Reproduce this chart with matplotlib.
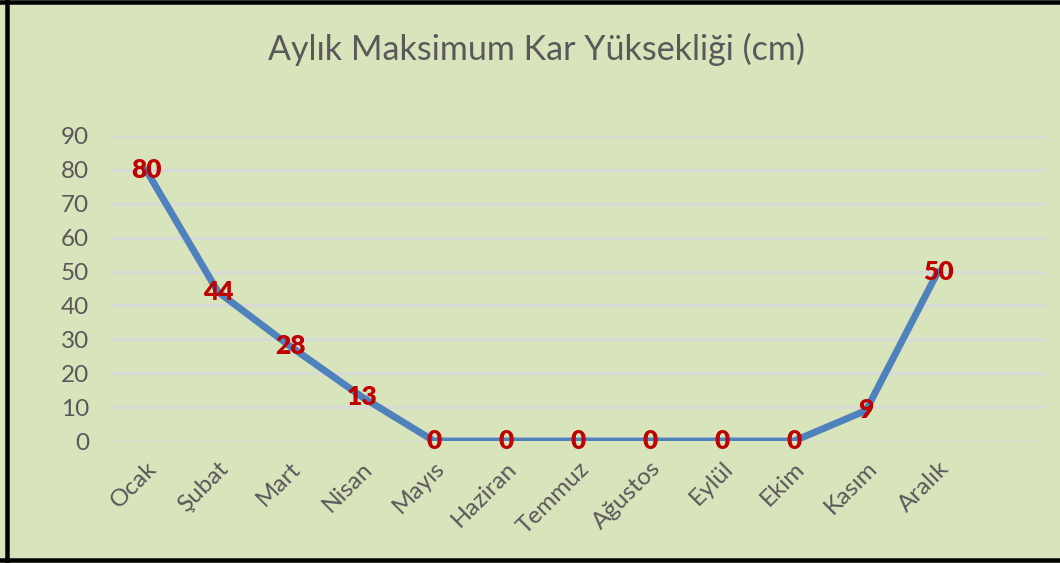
import matplotlib
matplotlib.use("Agg")
import matplotlib.pyplot as plt
from matplotlib.lines import Line2D

months = ["Ocak", "Şubat", "Mart", "Nisan", "Mayıs", "Haziran", "Temmuz",
          "Ağustos", "Eylül", "Ekim", "Kasım", "Aralık"]
snow_cm = [80, 44, 28, 13, 0, 0, 0, 0, 0, 0, 9, 50]
y_ticks = [0, 10, 20, 30, 40, 50, 60, 70, 80, 90]
title = "Aylık Maksimum Kar Yüksekliği (cm)"

plt.rcParams['font.family'] = ['Lato', 'DejaVu Sans']

W, H = 1060, 563
fig = plt.figure(figsize=(W / 100, H / 100), dpi=100)
bg = "#d8e4bc"
fig.patch.set_facecolor(bg)

# axes: x from 110 to 1046 px, y from 136 (90) to 441 (0)
ax = fig.add_axes([110 / W, 1 - 441 / H, (1046 - 110) / W, (441 - 136) / H])
ax.set_facecolor(bg)

x = list(range(len(months)))
ax.plot(x, snow_cm, color="#4f81bd", linewidth=5, solid_capstyle="round",
        solid_joinstyle="round", zorder=3)
for xi, v in zip(x, snow_cm):
    ax.text(xi, v, str(v), color="#c00000", fontsize=19, fontweight="heavy",
            ha="center", va="center", zorder=4)

ax.set_xlim(-0.5, 12.5)
ax.set_ylim(0, 90)
ax.set_yticks(y_ticks)
ax.set_yticklabels([str(t) for t in y_ticks], fontsize=17.5, color="#595959")
ax.set_xticks(x)
ax.set_xticklabels(months, fontsize=17.5, color="#595959", rotation=45,
                   ha="right", va="top", rotation_mode="anchor")
ax.tick_params(axis="both", length=0)
ax.tick_params(axis="y", pad=15)
ax.tick_params(axis="x", pad=12)
ax.grid(axis="y", color="#d9d9d9", linewidth=2, zorder=0)
ax.set_axisbelow(True)
for s in ax.spines.values():
    s.set_visible(False)

fig.text(536 / W, 1 - 49 / H, title, fontsize=24.5, color="#595959",
         ha="center", va="center")

# black frame (left, top, bottom)
lw = 4.5 * 72 / 100
fig.add_artist(Line2D([6.5 / W, 6.5 / W], [0, 1], color="black", linewidth=lw,
                      transform=fig.transFigure))
fig.add_artist(Line2D([0, 1], [1 - 2 / H, 1 - 2 / H], color="black", linewidth=lw,
                      transform=fig.transFigure))
fig.add_artist(Line2D([0, 1], [1 - 560 / H, 1 - 560 / H], color="black", linewidth=lw,
                      transform=fig.transFigure))

fig.savefig("out.png", dpi=100, facecolor=bg)
